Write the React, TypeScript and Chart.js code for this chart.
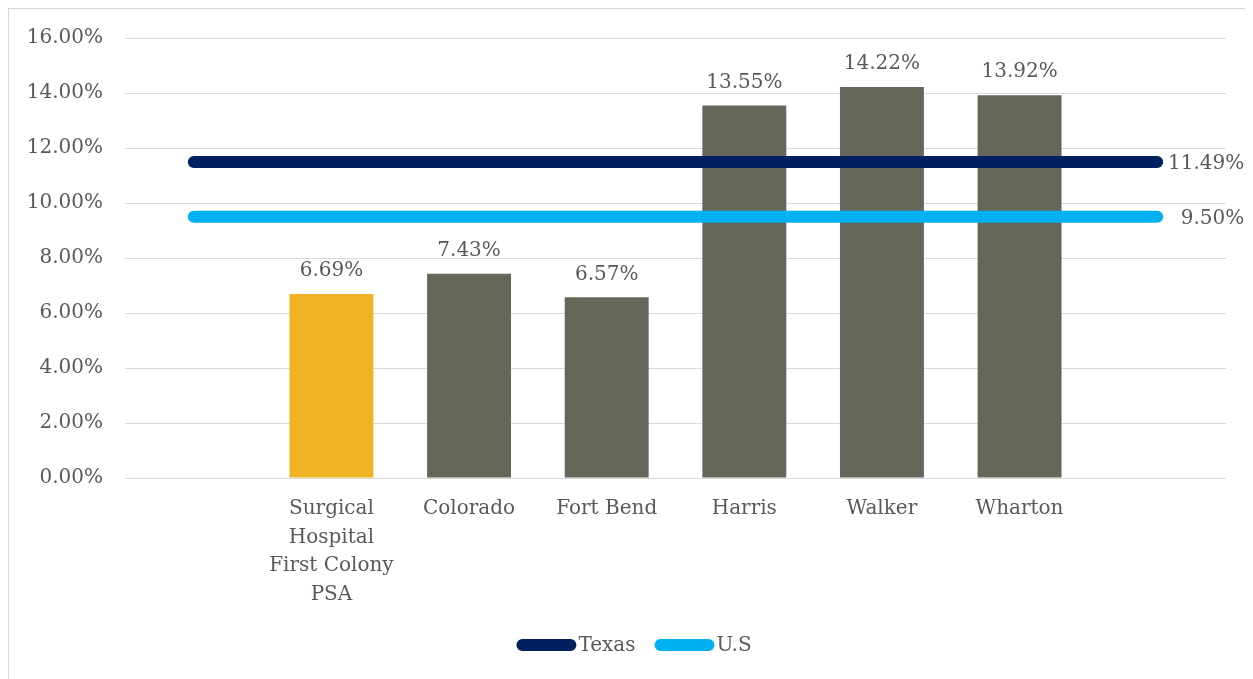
import React, { useEffect, useRef } from "react";
import { Chart, registerables } from "chart.js";

Chart.register(...registerables);

const categories: (string | string[])[] = [
  "",
  ["Surgical", "Hospital", "First Colony", "PSA"],
  "Colorado",
  "Fort Bend",
  "Harris",
  "Walker",
  "Wharton",
  "",
];
const barValues: (number | null)[] = [null, 6.69, 7.43, 6.57, 13.55, 14.22, 13.92, null];
const texasValues: number[] = [11.49, 11.49, 11.49, 11.49, 11.49, 11.49, 11.49, 11.49];
const usValues: number[] = [9.5, 9.5, 9.5, 9.5, 9.5, 9.5, 9.5, 9.5];
const seriesNames = ["Texas", "U.S"];
const yTicksMax = 16;
const yTicksStep = 2;

const FONT = "'DejaVu Serif', serif";
const TEXT = "#595959";
const YELLOW = "#F0B323";
const GRAY = "#66675A";
const NAVY = "#00205F";
const SKY = "#00B0F0";

const CANVAS_W = 1244;
const CANVAS_H = 675;

const fmt = (v: number) => v.toFixed(2) + "%";

const labelsPlugin = {
  id: "customLabels",
  afterDatasetsDraw(chart: any) {
    const ctx = chart.ctx;
    ctx.save();
    ctx.font = "20px " + FONT;
    ctx.fillStyle = TEXT;
    const barMeta = chart.getDatasetMeta(2);
    barMeta.data.forEach((el: any, i: number) => {
      const v = barValues[i];
      if (v == null) return;
      ctx.textAlign = "center";
      ctx.textBaseline = "middle";
      ctx.fillText(fmt(v), el.x, el.y - 23);
    });
    [0, 1].forEach((di) => {
      const meta = chart.getDatasetMeta(di);
      const last = meta.data[meta.data.length - 1];
      const vals = di === 0 ? texasValues : usValues;
      ctx.textAlign = "right";
      ctx.textBaseline = "middle";
      ctx.fillText(fmt(vals[vals.length - 1]), last.x + 87, last.y + 2);
    });
    ctx.restore();
  },
  afterDraw(chart: any) {
    const ctx = chart.ctx;
    ctx.save();
    ctx.font = "20px " + FONT;
    const colors = [NAVY, SKY];
    const sw = 60;
    const gapText = 2;
    const gapItem = 19;
    const widths = seriesNames.map((n) => sw + gapText + ctx.measureText(n).width);
    const total = widths.reduce((a, b) => a + b, 0) + gapItem * (seriesNames.length - 1);
    let x = chart.width / 2 - total / 2 + 3;
    const y = chart.chartArea.bottom + 167;
    seriesNames.forEach((n, i) => {
      ctx.strokeStyle = colors[i];
      ctx.lineWidth = 12;
      ctx.lineCap = "round";
      ctx.beginPath();
      ctx.moveTo(x + 6, y);
      ctx.lineTo(x + sw - 6, y);
      ctx.stroke();
      ctx.fillStyle = TEXT;
      ctx.textAlign = "left";
      ctx.textBaseline = "middle";
      ctx.fillText(n, x + sw + gapText, y + 1);
      x += widths[i] + gapItem;
    });
    ctx.restore();
  },
};

export default function App() {
  const ref = useRef<HTMLCanvasElement | null>(null);
  useEffect(() => {
    if (!ref.current) return;
    const chart = new Chart(ref.current, {
      type: "bar",
      data: {
        labels: categories as any,
        datasets: [
          {
            type: "line",
            label: seriesNames[0],
            data: texasValues,
            borderColor: NAVY,
            backgroundColor: NAVY,
            borderWidth: 12,
            borderCapStyle: "round",
            pointRadius: 0,
            order: 0,
          } as any,
          {
            type: "line",
            label: seriesNames[1],
            data: usValues,
            borderColor: SKY,
            backgroundColor: SKY,
            borderWidth: 12,
            borderCapStyle: "round",
            pointRadius: 0,
            order: 0,
          } as any,
          {
            type: "bar",
            label: "Rate",
            data: barValues,
            backgroundColor: barValues.map((_, i) => (i === 1 ? YELLOW : GRAY)),
            barPercentage: 0.61,
            categoryPercentage: 1,
            order: 1,
          },
        ],
      },
      options: {
        responsive: false,
        animation: false,
        layout: { padding: { top: 0, right: 27, left: 0, bottom: 0 } },
        plugins: {
          legend: { display: false },
          tooltip: { enabled: false },
        },
        scales: {
          x: {
            grid: { display: false, drawTicks: false },
            border: { display: false },
            ticks: {
              color: TEXT,
              font: { family: FONT, size: 20, lineHeight: 1.42 },
              padding: 17,
              maxRotation: 0,
              autoSkip: false,
            },
            afterFit: (s: any) => {
              s.height = 201;
            },
          },
          y: {
            min: 0,
            max: yTicksMax,
            grid: { color: "#d9d9d9", lineWidth: 1, drawTicks: false },
            border: { display: false },
            ticks: {
              stepSize: yTicksStep,
              color: TEXT,
              font: { family: FONT, size: 20 },
              padding: 22,
              callback: (v: any) => fmt(Number(v)),
            },
            afterFit: (s: any) => {
              s.width = 116;
            },
          },
        },
      },
      plugins: [labelsPlugin],
    });
    return () => chart.destroy();
  }, []);
  return (
    <div
      style={{
        width: 1244,
        height: 670,
        border: "1px solid #d9d9d9",
        borderRight: "none",
        borderBottom: "none",
        background: "#fff",
        overflow: "visible",
      }}
    >
      <canvas
        ref={ref}
        width={CANVAS_W}
        height={CANVAS_H}
        style={{ display: "block", width: CANVAS_W, height: CANVAS_H, marginTop: -5 }}
      />
    </div>
  );
}
